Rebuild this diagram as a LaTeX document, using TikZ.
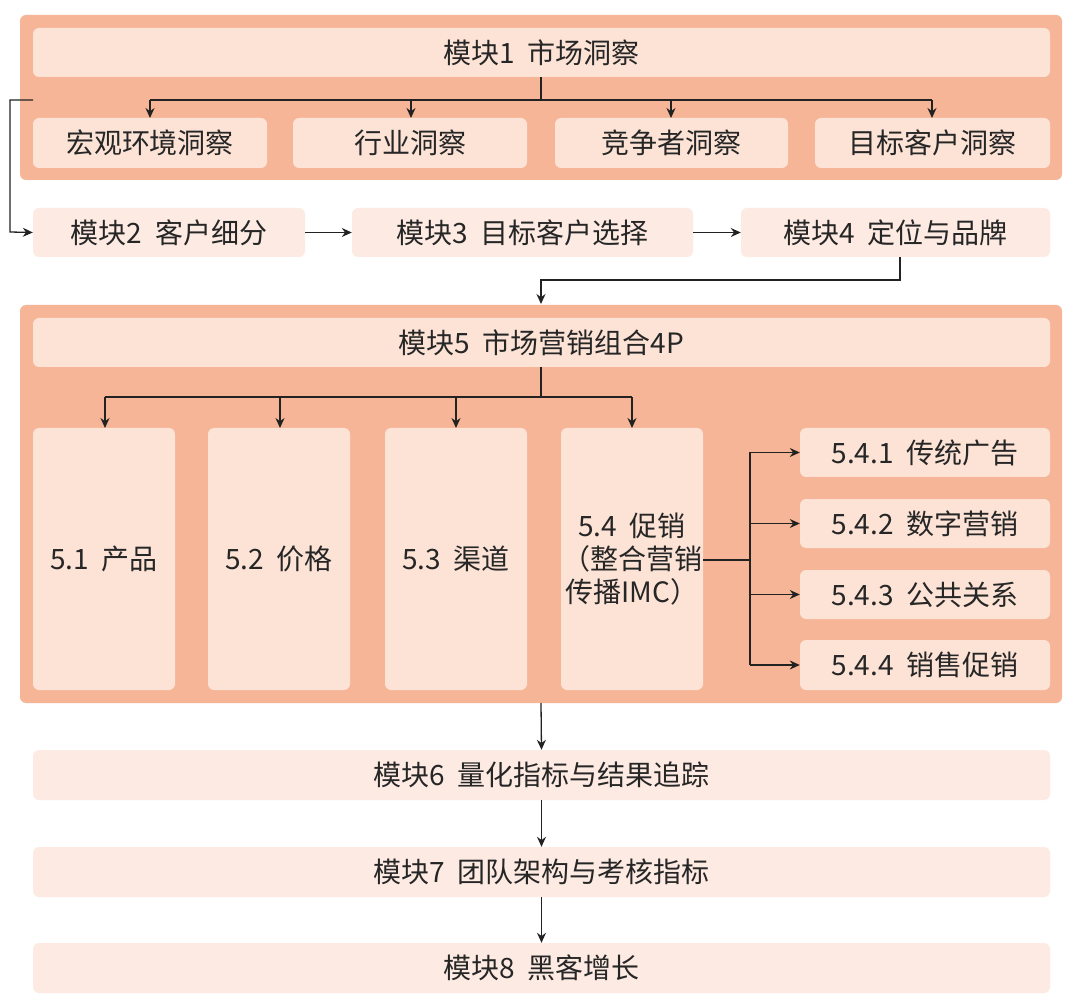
\documentclass[tikz,border=0pt]{standalone}
\usepackage{fontspec}
\setmainfont{Noto Sans CJK SC}
\usetikzlibrary{arrows.meta}
\definecolor{outer}{HTML}{F6B597}
\definecolor{inner}{HTML}{FCE3D6}
\definecolor{light}{HTML}{FDEBE3}
\definecolor{ln}{HTML}{222222}
\tikzset{
  outerbox/.style={fill=outer,draw=none,rounded corners=6pt},
  bx/.style={fill=inner,draw=none,rounded corners=6pt},
  lbx/.style={fill=light,draw=none,rounded corners=6pt},
  tx/.style={font=\fontsize{28}{33}\selectfont,text=black!85,align=center},
  arr/.style={draw=ln,line width=1.3pt,-{Stealth[length=10pt,width=9pt]}},
  ln/.style={draw=ln,line width=1.3pt}
}
\newcommand{\bb}[6]{\node[#1,minimum width=#4-#3,minimum height=#6-#5,inner sep=0pt] (#2) at ({(#3+#4)/2},{-(#5+#6)/2}) {};}
\begin{document}
\begin{tikzpicture}[x=1pt,y=1pt]
\useasboundingbox (0,0) rectangle (1080,-1008);
\fill[white] (0,0) rectangle (1080,-1008);
\fill[outerbox] (20,-15) rectangle (1062,-180);
\fill[outerbox] (20,-305) rectangle (1062,-703);
% module1
\bb{bx}{m1}{33}{1050}{28}{77}\node[tx] at (m1) {模块1\ \ 市场洞察};
\bb{bx}{a1}{33}{267}{118}{168}\node[tx] at (a1) {宏观环境洞察};
\bb{bx}{a2}{293}{527}{118}{168}\node[tx] at (a2) {行业洞察};
\bb{bx}{a3}{555}{788}{118}{168}\node[tx] at (a3) {竞争者洞察};
\bb{bx}{a4}{815}{1050}{118}{168}\node[tx] at (a4) {目标客户洞察};
\draw[ln] (541,-77) -- (541,-100);
\draw[ln] (150,-100) -- (932,-100);
\foreach \x in {150,411,671,932} \draw[arr] (\x,-100) -- (\x,-118);
% modules 2-4
\bb{lbx}{m2}{33}{305}{208}{257}\node[tx] at (m2) {模块2\ \ 客户细分};
\bb{lbx}{m3}{352}{693}{208}{257}\node[tx] at (m3) {模块3\ \ 目标客户选择};
\bb{lbx}{m4}{741}{1050}{208}{257}\node[tx] at (m4) {模块4\ \ 定位与品牌};
\draw[arr] (33,-100) -- (10,-100) -- (10,-232) -- (m2.west);
\draw[arr] (m2.east) -- (m3.west);
\draw[arr] (m3.east) -- (m4.west);
% module5
\bb{bx}{m5}{33}{1050}{318}{367}\node[tx] at (m5) {模块5\ \ 市场营销组合4P};
\draw[arr] (900,-257) -- (900,-280) -- (541,-280) -- (541,-304);
\bb{bx}{p1}{33}{175}{428}{690}\node[tx] at (p1) {5.1\ \ 产品};
\bb{bx}{p2}{208}{350}{428}{690}\node[tx] at (p2) {5.2\ \ 价格};
\bb{bx}{p3}{385}{527}{428}{690}\node[tx] at (p3) {5.3\ \ 渠道};
\bb{bx}{p4}{561}{703}{428}{690}\node[tx] at (p4) {5.4\ \ 促销\\（整合营销\\传播IMC）};
\draw[ln] (541,-367) -- (541,-397);
\draw[ln] (105,-397) -- (632,-397);
\foreach \x in {105,280,456,632} \draw[arr] (\x,-397) -- (\x,-428);
\bb{bx}{q1}{800}{1050}{428}{477}\node[tx] at (q1) {5.4.1\ \ 传统广告};
\bb{bx}{q2}{800}{1050}{499}{548}\node[tx] at (q2) {5.4.2\ \ 数字营销};
\bb{bx}{q3}{800}{1050}{570}{619}\node[tx] at (q3) {5.4.3\ \ 公共关系};
\bb{bx}{q4}{800}{1050}{640}{690}\node[tx] at (q4) {5.4.4\ \ 销售促销};
\draw[ln] (703,-560) -- (750,-560);
\draw[ln] (750,-452.5) -- (750,-665);
\foreach \n in {q1,q2,q3,q4} \draw[arr] (750,0 |- \n.west) -- (\n.west);
% modules 6-8
\bb{lbx}{m6}{33}{1050}{750}{800}\node[tx] at (m6) {模块6\ \ 量化指标与结果追踪};
\bb{lbx}{m7}{33}{1050}{847}{897}\node[tx] at (m7) {模块7\ \ 团队架构与考核指标};
\bb{lbx}{m8}{33}{1050}{943}{993}\node[tx] at (m8) {模块8\ \ 黑客增长};
\draw[arr] (541,-703) -- (m6.north);
\draw[arr] (m6.south) -- (m7.north);
\draw[arr] (m7.south) -- (m8.north);
\end{tikzpicture}
\end{document}
